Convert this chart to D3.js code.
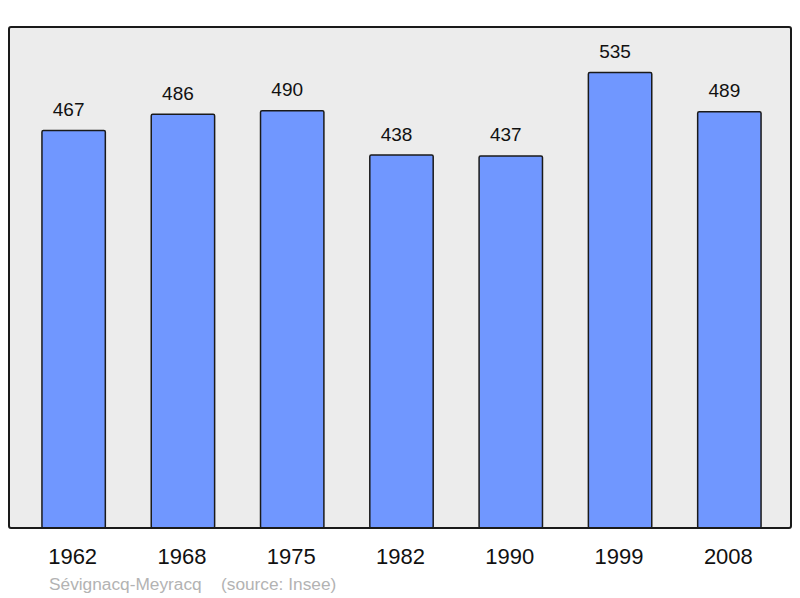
<!DOCTYPE html>
<html>
<head>
<meta charset="utf-8">
<script src="https://cdn.jsdelivr.net/npm/d3@7"></script>
<style>
  body { margin: 0; background: #fff; }
  text { font-family: "Liberation Sans", Arial, sans-serif; }
</style>
</head>
<body>
<div class="main"></div>
<script>
// Population by census year
const years = ["1962", "1968", "1975", "1982", "1990", "1999", "2008"]
const population = [467, 486, 490, 438, 437, 535, 489]
const commune = "Sévignacq-Meyracq"
const source = "(source: Insee)"

const width = 800
const height = 598
const panel = ({left: 9, top: 27, right: 791, bottom: 528})

const data = years.map((y, i) => ({year: y, value: population[i]}))

const x = d3.scaleBand()
  .domain(years)
  .range([19, 784])
  .paddingInner(0.42)
  .paddingOuter(0.21)

const y = d3.scaleLinear()
  .domain([0, d3.max(population) * 1.1])
  .range([panel.bottom, panel.top])

const svg = d3.select(".main")
  .append("svg")
    .attr("width", width)
    .attr("height", height)
    .attr("viewBox", [0, 0, width, height])

// Panel background
svg.append("rect")
  .attr("x", panel.left)
  .attr("y", panel.top)
  .attr("width", panel.right - panel.left)
  .attr("height", panel.bottom - panel.top)
  .attr("rx", 2)
  .attr("fill", "#ececec")
  .attr("stroke", "none")

// Bars
svg.append("g")
  .selectAll("rect")
  .data(data)
  .join("rect")
    .attr("x", d => x(d.year))
    .attr("y", d => y(d.value))
    .attr("width", x.bandwidth())
    .attr("height", d => y(0) - y(d.value))
    .attr("rx", 1.5)
    .attr("fill", "#7097ff")
    .attr("stroke", "#1a1a1a")
    .attr("stroke-width", 1.5)

// Panel frame on top so the baseline covers bar bottoms
svg.append("rect")
  .attr("x", panel.left)
  .attr("y", panel.top)
  .attr("width", panel.right - panel.left)
  .attr("height", panel.bottom - panel.top)
  .attr("rx", 2)
  .attr("fill", "none")
  .attr("stroke", "#1a1a1a")
  .attr("stroke-width", 2)

// Value labels
svg.append("g")
  .selectAll("text")
  .data(data)
  .join("text")
    .attr("x", d => x(d.year) + x.bandwidth() / 2 - 5)
    .attr("y", d => y(d.value) - 14.5)
    .attr("text-anchor", "middle")
    .attr("font-size", "19px")
    .attr("fill", "#111")
    .text(d => d.value)

// Year labels
svg.append("g")
  .selectAll("text")
  .data(years)
  .join("text")
    .attr("x", d => x(d) + x.bandwidth() / 2 - 1)
    .attr("y", 564)
    .attr("text-anchor", "middle")
    .attr("font-size", "22px")
    .attr("fill", "#111")
    .text(d => d)

// Footer
svg.append("text")
  .attr("x", 49)
  .attr("y", 590)
  .attr("font-size", "17.3px")
  .attr("fill", "#b3b3b3")
  .text(commune)

svg.append("text")
  .attr("x", 221)
  .attr("y", 590)
  .attr("font-size", "17.3px")
  .attr("fill", "#b3b3b3")
  .text(source)
</script>
</body>
</html>
